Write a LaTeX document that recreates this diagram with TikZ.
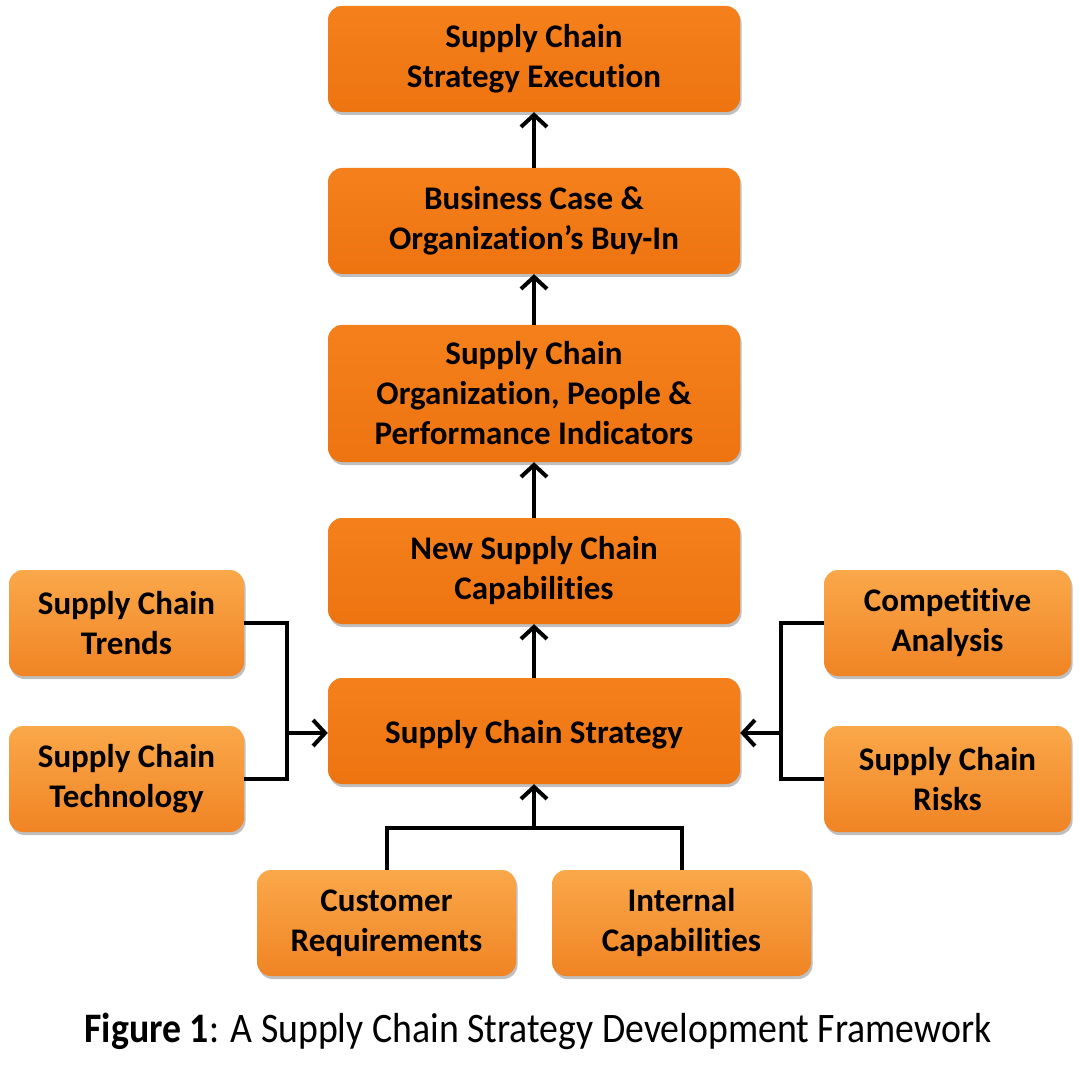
\documentclass[tikz,border=0pt]{standalone}
\usepackage{fontspec}
\setmainfont{Carlito}[Ligatures=NoCommon]
\usetikzlibrary{arrows.meta,shadows}
\definecolor{mainTop}{HTML}{F4801C}
\definecolor{mainBot}{HTML}{EE7410}
\definecolor{sideTop}{HTML}{FAA84A}
\definecolor{sideBot}{HTML}{F08424}
\tikzset{
  box/.style={rectangle, rounded corners=14pt, inner sep=0pt, align=center,
    font=\fontsize{33}{40}\selectfont\bfseries, text=black,
    minimum height=106pt,
    execute at begin node={\rule{0pt}{30.5pt}},
    drop shadow={shadow xshift=1.5pt, shadow yshift=-3pt, opacity=0.25, fill=black}},
  mainbox/.style={box, top color=mainTop, bottom color=mainBot, minimum width=412pt},
  sidebox/.style={box, top color=sideTop, bottom color=sideBot},
  conn/.style={line width=4pt, draw=black},
  arr/.style={conn, -{Straight Barb[length=12pt,width=26pt,line width=4pt]}},
}
\begin{document}
\begin{tikzpicture}[x=1pt,y=-1pt]
\fill[white] (0,0) rectangle (1080,1078);
\useasboundingbox (0,0) rectangle (1080,1078);

\node[mainbox] (exec) at (534,59) {Supply Chain\\Strategy Execution};
\node[mainbox] (biz) at (534,221) {Business Case \&\\Organization’s Buy-In};
\node[mainbox, minimum height=137pt] (org) at (534,393.5) {Supply Chain\\Organization, People \&\\Performance Indicators};
\node[mainbox] (newcap) at (534,571) {New Supply Chain\\Capabilities};
\node[mainbox] (strat) at (534,731) {Supply Chain Strategy};

\node[sidebox, minimum width=235pt] (trends) at (126.5,623) {Supply Chain\\Trends};
\node[sidebox, minimum width=235pt] (tech) at (126.5,779) {Supply Chain\\Technology};
\node[sidebox, minimum width=247pt] (comp) at (947.5,623) {Competitive\\Analysis};
\node[sidebox, minimum width=247pt] (risks) at (947.5,779) {Supply Chain\\Risks};
\node[sidebox, minimum width=259pt] (cust) at (386.5,923) {Customer\\Requirements};
\node[sidebox, minimum width=259pt] (intcap) at (681.5,923) {Internal\\Capabilities};

\draw[arr] (biz.north) -- (exec.south);
\draw[arr] (org.north) -- (biz.south);
\draw[arr] (newcap.north) -- (org.south);
\draw[arr] (strat.north) -- (newcap.south);

\coordinate (lj) at (287,733);
\coordinate (rj) at (781,733);
\coordinate (bj) at (534,828);
\draw[conn] (trends.east) -| (lj) |- (tech.east);
\draw[arr] (lj) -- (lj -| strat.west);
\draw[conn] (comp.west) -| (rj) |- (risks.west);
\draw[arr] (rj) -- (rj -| strat.east);
\draw[conn] (cust.north) |- (bj) -| (intcap.north);
\draw[arr] (bj) -- (strat.south);

\node[font=\fontsize{42}{44}\selectfont] (cap) at (538,1031) {\scalebox{0.9}[1]{\textbf{Figure 1}: A Supply Chain Strategy Development Framework}};
\end{tikzpicture}
\end{document}
